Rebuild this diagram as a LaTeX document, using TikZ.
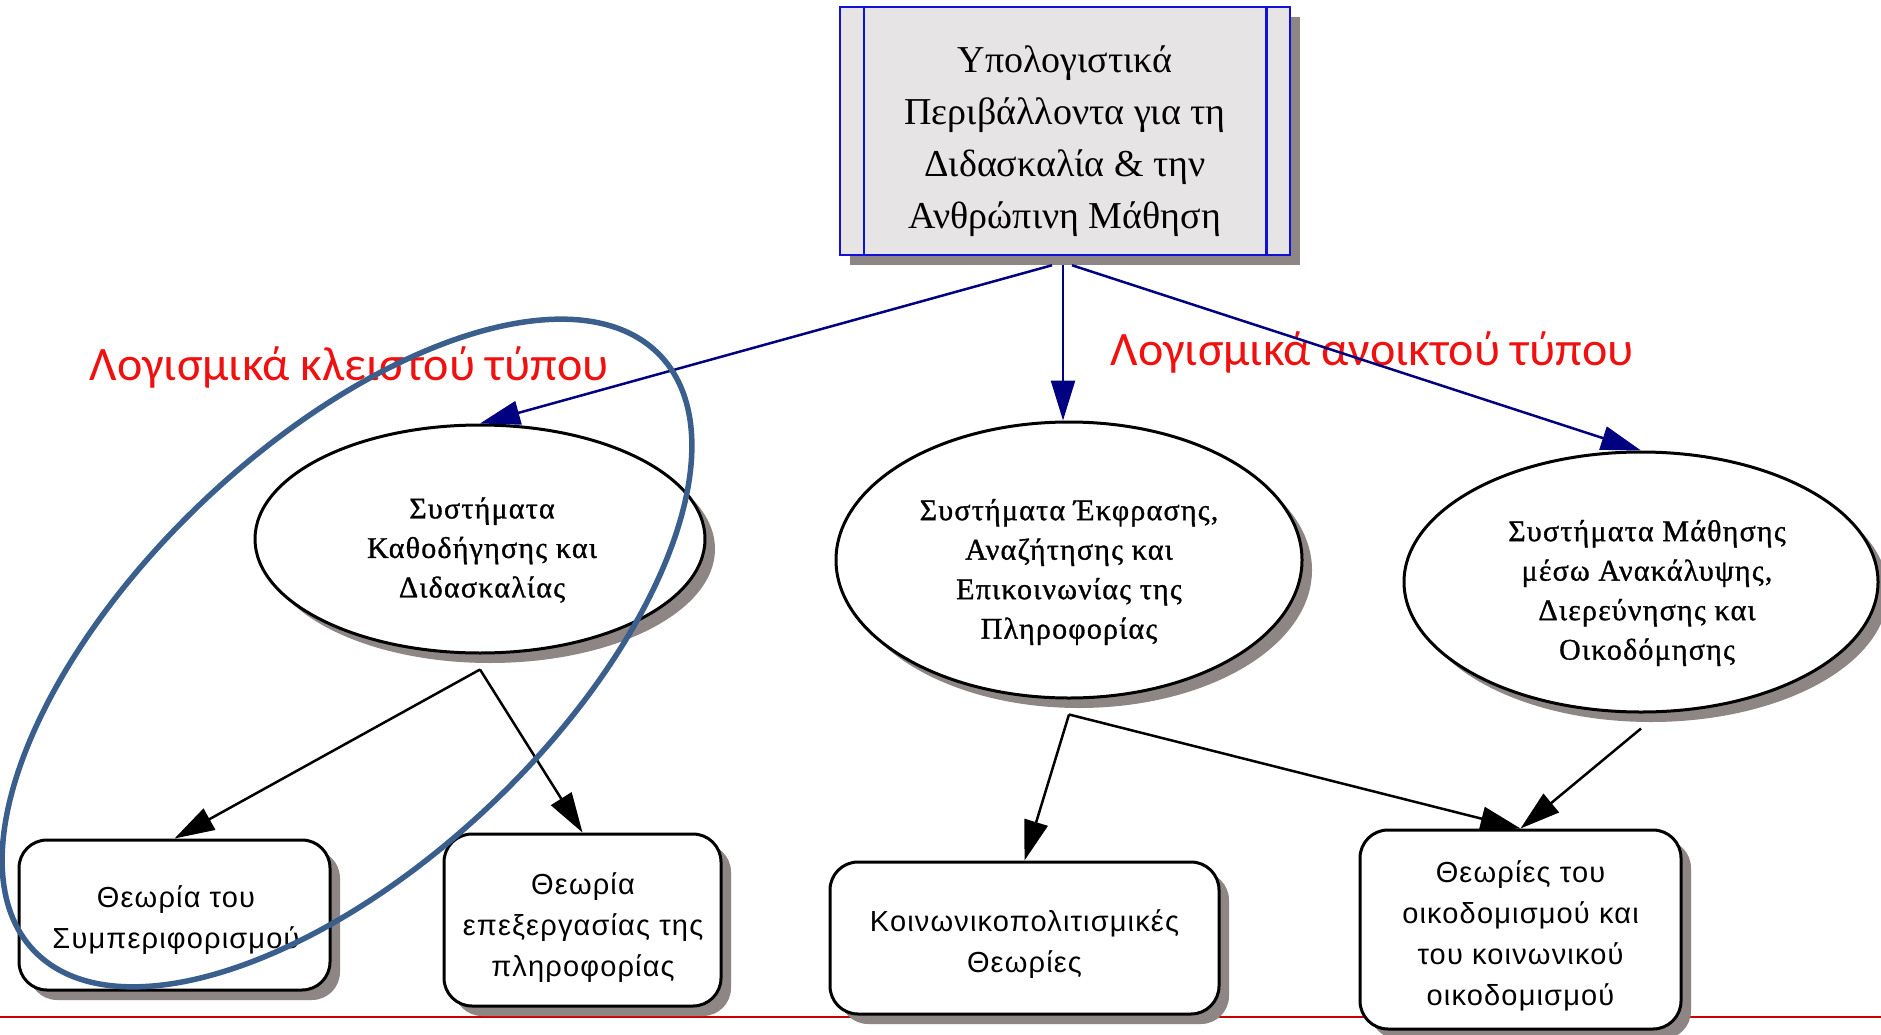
\documentclass[tikz,border=0pt]{standalone}
\usepackage{fontspec}
\setmainfont{Liberation Serif}
\setsansfont{Liberation Sans}
\newfontfamily\calfont{Carlito}
\newfontfamily\ellfont[LetterSpace=4,FakeBold=1]{Liberation Serif}
\newfontfamily\boxfont[LetterSpace=4]{Liberation Sans}
\usetikzlibrary{arrows.meta,calc,shapes.geometric,shadows}
\definecolor{shadowgray}{HTML}{8E8585}
\definecolor{topfill}{HTML}{E6E4E4}
\definecolor{topblue}{HTML}{1010D8}
\definecolor{navyarrow}{HTML}{000080}
\definecolor{loopblue}{HTML}{3B5F8C}
\definecolor{labelred}{HTML}{F01010}
\definecolor{linered}{HTML}{CC0000}
\tikzset{
  shad/.style={drop shadow={shadow xshift=10pt,shadow yshift=-10pt,fill=shadowgray,opacity=1}},
  topbox/.style={draw=topblue,line width=2.5pt,fill=topfill,shad,rectangle,inner sep=0pt},
  toptext/.style={align=center,inner sep=0pt,font=\fontsize{38}{52}\selectfont},
  ellbox/.style={draw=black,line width=3pt,fill=white,shad,ellipse,inner sep=0pt},
  elltext/.style={align=center,inner sep=0pt,font=\ellfont\fontsize{30}{39.5}\selectfont},
  rbox/.style={draw=black,line width=3pt,fill=white,shad,rectangle,rounded corners=28pt,inner sep=0pt},
  rtext/.style={align=center,inner sep=0pt,font=\boxfont\fontsize{29}{41}\selectfont},
  navyarr/.style={draw=navyarrow,line width=2.5pt,-{Triangle[length=40pt,width=24pt]},fill=navyarrow},
  blackarr/.style={draw=black,line width=2.5pt,-{Triangle[length=40pt,width=24pt]}},
  redlabel/.style={text=labelred,font=\calfont\fontsize{48}{54}\selectfont,inner sep=0pt}
}
\begin{document}
\begin{tikzpicture}[x=1pt,y=-1pt]
\useasboundingbox (0,0) rectangle (1881,1035);
\fill[white] (0,0) rectangle (1881,1035);
\draw[linered,line width=2.5pt] (0,1017) coordinate (rl) -- (1881,1017) coordinate (rr);
% labels
\node[redlabel] (lblc) at (349,367) {Λογισμικά κλειστού τύπου};
\node[redlabel] (lblo) at (1372,352) {Λογισμικά ανοικτού τύπου};
% top box
\node[topbox,minimum width=450pt,minimum height=248pt] (top) at (1065,131) {};
\node[toptext] (topt) at (1065,141)
  {Υπολογιστικά\\Περιβάλλοντα για τη\\Διδασκαλία \& την\\Ανθρώπινη Μάθηση};
\draw[topblue,line width=2.5pt] ($(top.north west)+(25,0)$) -- ($(top.south west)+(25,0)$);
\draw[topblue,line width=2.5pt] ($(top.north east)+(-25,0)$) -- ($(top.south east)+(-25,0)$);
% ellipses
\node[ellbox,minimum width=450pt,minimum height=228pt] (e1) at (480,539) {};
\node[elltext] (e1t) at (482,550) {Συστήματα\\Καθοδήγησης και\\Διδασκαλίας};
\node[ellbox,minimum width=466pt,minimum height=276pt] (e2) at (1069,560) {};
\node[elltext] (e2t) at (1069,572) {Συστήματα Έκφρασης,\\Αναζήτησης και\\Επικοινωνίας της\\Πληροφορίας};
\node[ellbox,minimum width=474pt,minimum height=260pt] (e3) at (1641,582) {};
\node[elltext] (e3t) at (1647,593) {Συστήματα Μάθησης\\μέσω Ανακάλυψης,\\Διερεύνησης και\\Οικοδόμησης};
% rectangles
\node[rbox,minimum width=311pt,minimum height=150pt] (r1) at (174.5,915) {};
\node[rtext] (r1t) at (176,920) {Θεωρία του\\Συμπεριφορισμού};
\node[rbox,minimum width=277pt,minimum height=172pt] (r2) at (582.5,920) {};
\node[rtext] (r2t) at (583,928) {Θεωρία\\επεξεργασίας της\\πληροφορίας};
\node[rbox,minimum width=389pt,minimum height=152pt] (r3) at (1024.5,938) {};
\node[rtext] (r3t) at (1024.5,944) {Κοινωνικοπολιτισμικές\\Θεωρίες};
\node[rbox,minimum width=321pt,minimum height=199pt] (r4) at (1520.5,929.5) {};
\node[rtext] (r4t) at (1520.5,936) {Θεωρίες του\\οικοδομισμού και\\του κοινωνικού\\οικοδομισμού};
% navy arrows
\draw[navyarr] ([xshift=-13pt,yshift=-9pt]top.south) -- (e1.north);
\draw[navyarr] ([xshift=-2pt,yshift=-9pt]top.south) -- ([xshift=-2pt]top.south |- e2.north);
\draw[navyarr] ([xshift=7pt,yshift=-9pt]top.south) -- (e3.north);
% black arrows
\draw[blackarr] ([yshift=-15pt]e1.south) -- (r1.north);
\draw[blackarr] ([yshift=-15pt]e1.south) -- (r2.north);
\draw[blackarr] ([yshift=-15pt]e2.south) -- (r3.north);
\draw[blackarr] ([yshift=-15pt]e2.south) -- (r4.north);
\draw[blackarr] ([yshift=-15pt]e3.south) -- (r4.north);
% loop ellipse
\draw[loopblue,line width=5.5pt,rotate around={43.5:(347,653)}] (347,653) ellipse [x radius=432, y radius=209];
\end{tikzpicture}
\end{document}
